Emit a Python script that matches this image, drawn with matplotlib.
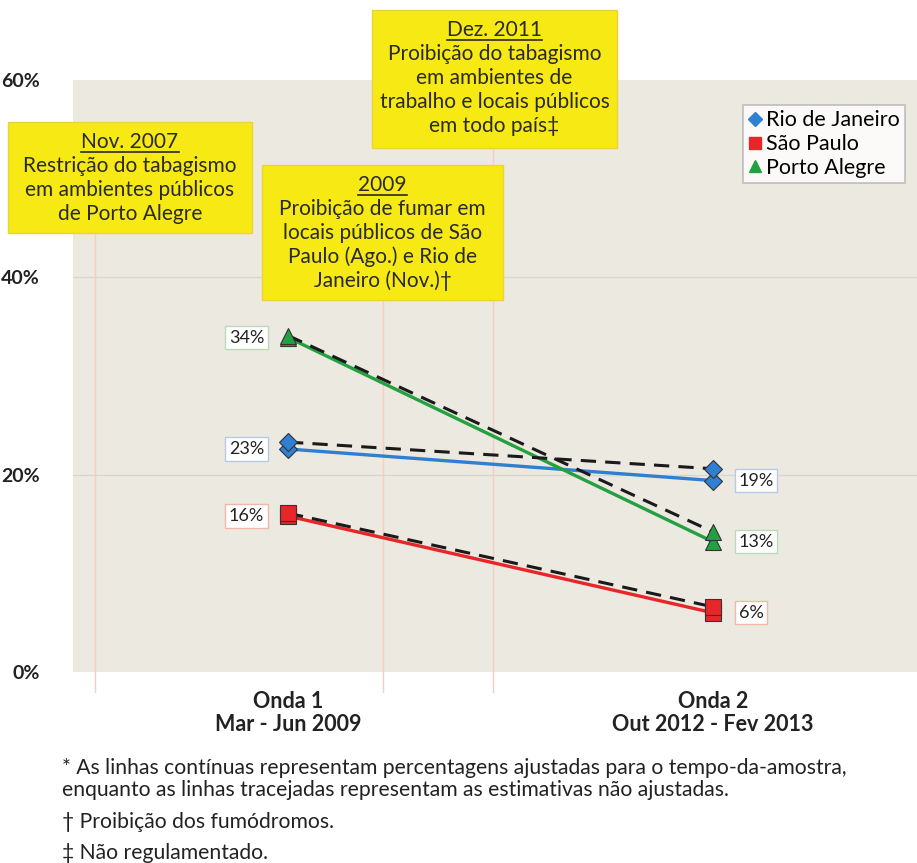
import matplotlib.pyplot as plt
from matplotlib.patches import Rectangle
from matplotlib.lines import Line2D

# dados
ondas = ['Onda 1\nMar - Jun 2009', 'Onda 2\nOut 2012 - Fev 2013']
cidades = ['Rio de Janeiro', 'São Paulo', 'Porto Alegre']
ajustado = {'Rio de Janeiro': [22.6, 19.4],
            'São Paulo': [15.8, 6.0],
            'Porto Alegre': [33.9, 13.2]}
nao_ajustado = {'Rio de Janeiro': [23.3, 20.6],
                'São Paulo': [16.1, 6.6],
                'Porto Alegre': [34.1, 14.2]}
rotulos = {'Rio de Janeiro': ['23%', '19%'],
           'São Paulo': ['16%', '6%'],
           'Porto Alegre': ['34%', '13%']}

cores = {'Rio de Janeiro': '#2f7fd3', 'São Paulo': '#e8262a', 'Porto Alegre': '#23a03f'}
bordas = {'Rio de Janeiro': '#b8c8e8', 'São Paulo': '#f0b8a8', 'Porto Alegre': '#b8dcb8'}
marcas = {'Rio de Janeiro': 'D', 'São Paulo': 's', 'Porto Alegre': '^'}

W, H = 917, 863
plt.rcParams['font.family'] = ['Lato', 'DejaVu Sans']
fig = plt.figure(figsize=(W / 100, H / 100), dpi=100)
fig.patch.set_facecolor('white')

def fx(px):
    return px / W

def fy(py):
    return 1 - py / H

ax = fig.add_axes([fx(73), fy(672), fx(917) - fx(73), fy(80) - fy(672)])
ax.set_facecolor('#ece9e1')
for s in ax.spines.values():
    s.set_visible(False)
ax.set_ylim(0, 60)
ax.set_xlim(-0.506, 1.48)
ax.set_yticks([0, 20, 40, 60])
ax.set_yticklabels(['0%', '20%', '40%', '60%'], fontsize=14, fontweight='bold', color='#222222')
ax.tick_params(axis='y', length=0, pad=24)
ax.set_xticks([0, 1])
ax.set_xticklabels(ondas, fontsize=15.5, fontweight='bold', color='#222222', linespacing=1.1)
ax.tick_params(axis='x', length=0, pad=14)
for v in [20, 40]:
    ax.axhline(v, color='#d9d5cc', lw=1, zorder=1)

# linhas dos eventos
eventos = [(-0.454, 0.742), (0.224, 0.628), (0.482, 0.885)]
for xe, topo in eventos:
    ax.plot([xe, xe], [-0.034, topo], transform=ax.get_xaxis_transform(),
            color='#f3cfc2', lw=1, clip_on=False, zorder=1)

xs = [0, 1]
for c in cidades:
    ax.plot(xs, ajustado[c], color=cores[c], lw=2.4, zorder=3,
            marker=marcas[c], ms=11 if marcas[c] != 'D' else 9,
            markerfacecolor=cores[c], markeredgecolor='#333333', markeredgewidth=0.8)
    ax.plot(xs, nao_ajustado[c], color='#1a1a1a', lw=2.2, ls=(0, (5, 3)), zorder=4,
            marker=marcas[c], ms=11 if marcas[c] != 'D' else 9,
            markerfacecolor=cores[c], markeredgecolor='#333333', markeredgewidth=0.8)

    for i, (dx, ha) in enumerate([(-0.056, 'right'), (0.06, 'left')]):
        ax.text(xs[i] + dx, ajustado[c][i], rotulos[c][i], fontsize=13,
                color='#222222', ha=ha, va='center', zorder=5,
                bbox=dict(boxstyle='square,pad=0.2', facecolor='white',
                          edgecolor=bordas[c], lw=1))

# legenda
handles = [Line2D([], [], ls='none', marker=marcas[c], color=cores[c],
                  ms=8.5 if marcas[c] != 'D' else 7) for c in cidades]
leg = ax.legend(handles, cidades, loc='upper right', bbox_to_anchor=(0.986, 0.958),
                borderaxespad=0, fontsize=15.5, frameon=True, fancybox=False,
                handlelength=0.6, handletextpad=0.2, borderpad=0.25, labelspacing=0.18)
leg.get_frame().set_edgecolor('#b0b0b0')
leg.get_frame().set_linewidth(1.2)

# caixas amarelas
caixas = [
    (8, 122, 252, 233, 'Nov. 2007',
     ['Restrição do tabagismo', 'em ambientes públicos', 'de Porto Alegre']),
    (262, 165, 503, 300, '2009',
     ['Proibição de fumar em', 'locais públicos de São', 'Paulo (Ago.) e Rio de', 'Janeiro (Nov.)†']),
    (372, 10, 617, 148, 'Dez. 2011',
     ['Proibição do tabagismo', 'em ambientes de', 'trabalho e locais públicos', 'em todo país‡']),
]
renderer = fig.canvas.get_renderer()
for x0, y0, x1, y1, titulo, linhas in caixas:
    fig.add_artist(Rectangle((fx(x0), fy(y1)), fx(x1) - fx(x0), fy(y0) - fy(y1),
                             transform=fig.transFigure, facecolor='#f7e914',
                             edgecolor='#ecd33a', lw=1, zorder=10))
    cx = (x0 + x1) / 2
    ty = y0 + 20
    t = fig.text(fx(cx), fy(ty), titulo, ha='center', va='center', fontsize=15,
                 color='#2a2a2a', zorder=11)
    larg = t.get_window_extent(renderer).width
    fig.add_artist(Line2D([fx(cx - larg / 2), fx(cx + larg / 2)], [fy(ty + 10), fy(ty + 10)],
                          transform=fig.transFigure, color='#2a2a2a', lw=1.2, zorder=11))
    for k, ln in enumerate(linhas):
        fig.text(fx(cx), fy(ty + 24 * (k + 1)), ln, ha='center', va='center', fontsize=15,
                 color='#2a2a2a', zorder=11)

# notas
notas = [(768, '* As linhas contínuas representam percentagens ajustadas para o tempo-da-amostra,'),
         (790, 'enquanto as linhas tracejadas representam as estimativas não ajustadas.'),
         (822, '† Proibição dos fumódromos.'),
         (853, '‡ Não regulamentado.')]
for py, txt in notas:
    fig.text(fx(62), fy(py), txt, ha='left', va='center', fontsize=15.2, color='#222222')

fig.savefig('out.png', dpi=100)
